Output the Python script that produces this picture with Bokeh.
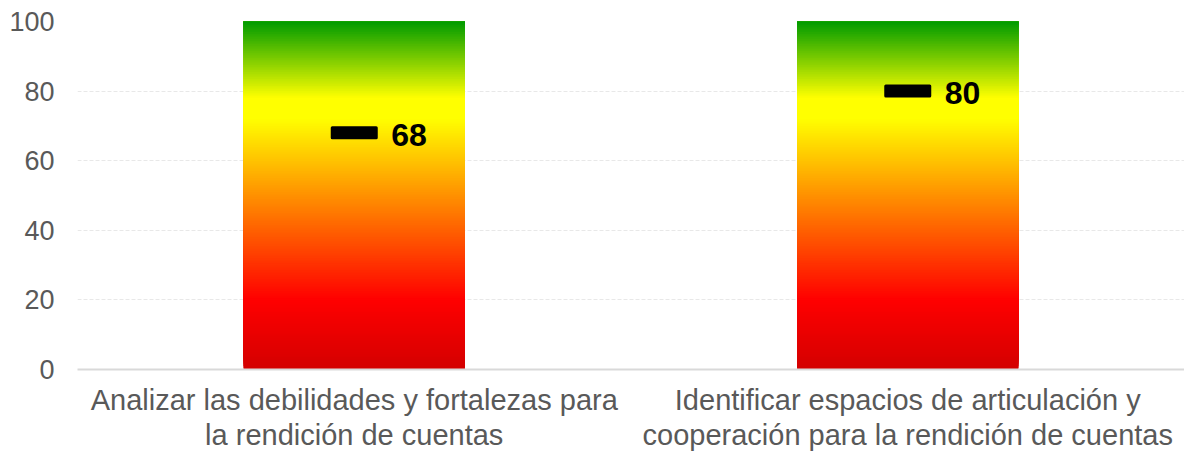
import numpy as np
from bokeh.plotting import figure
from bokeh.models import Range1d, FactorRange, FixedTicker
from bokeh.core.properties import value
from bokeh.embed import file_html
from bokeh.resources import INLINE

# ---- data ----
categories = ["Analizar las debilidades y fortalezas para\nla rendición de cuentas",
              "Identificar espacios de articulación y\ncooperación para la rendición de cuentas"]
scale_max = [100, 100]          # gradient bar height
scores = [68, 80]               # marker values
score_labels = ["68", "80"]
y_ticks = [0, 20, 40, 60, 80, 100]

# gradient stops (style)
stop_pos = [0, 20, 50, 72, 78, 100]
stop_col = [(212, 0, 0), (255, 0, 0), (255, 145, 0), (255, 255, 0), (255, 255, 0), (0, 155, 0)]

FONT = "Liberation Sans"

p = figure(x_range=FactorRange(*categories), y_range=Range1d(0, 100),
           width=1184, height=454, output_backend="svg", toolbar_location=None,
           min_border_left=77, min_border_right=0, min_border_top=21, min_border_bottom=85)
p.outline_line_color = None
p.background_fill_color = "white"

# gradient bars as overlapping slices (no seams)
n = 200
sp = np.array(stop_pos, dtype=float)
sc = np.array(stop_col, dtype=float)
xs, bots, tops, cols = [], [], [], []
for cat, vmax in zip(categories, scale_max):
    edges = np.linspace(0, vmax, n + 1)
    for i in range(n):
        mid = (edges[i] + edges[i + 1]) / 2
        r = np.interp(mid, sp, sc[:, 0]); g = np.interp(mid, sp, sc[:, 1]); b = np.interp(mid, sp, sc[:, 2])
        xs.append(cat); bots.append(edges[i]); tops.append(vmax)
        cols.append("#%02x%02x%02x" % (int(r), int(g), int(b)))
p.vbar(x=xs, bottom=bots, top=tops, width=0.4, fill_color=cols, line_color=None)

# markers
p.rect(x=categories, y=scores, width=44, height=10, width_units="screen", height_units="screen",
       fill_color="black", line_color="black", line_width=3, line_join="round")
p.text(x=categories, y=scores, text=score_labels, x_offset=37, y_offset=2,
       text_baseline="middle", text_align="left", text_font=value(FONT),
       text_font_size="32px", text_font_style="bold", text_color="black")

# axes
p.yaxis.ticker = FixedTicker(ticks=y_ticks)
p.yaxis.axis_line_color = None
p.yaxis.major_tick_line_color = None
p.yaxis.minor_tick_line_color = None
p.yaxis.major_label_text_font = FONT
p.yaxis.major_label_text_font_size = "27px"
p.yaxis.major_label_text_color = "#595959"
p.yaxis.major_label_standoff = 17

p.xaxis.axis_line_color = "#D9D9D9"
p.xaxis.axis_line_width = 2
p.xaxis.major_tick_line_color = None
p.xaxis.minor_tick_line_color = None
p.xaxis.major_label_text_font = FONT
p.xaxis.major_label_text_font_size = "29px"
p.xaxis.major_label_text_line_height = 1.1
p.xaxis.major_label_text_color = "#595959"
p.xaxis.major_label_standoff = 8
p.xaxis.major_label_orientation = "horizontal"

p.xgrid.grid_line_color = None
p.ygrid.grid_line_color = "#E8E8E8"
p.ygrid.grid_line_dash = "4 2"
p.ygrid.grid_line_width = 1

open("out.html", "w").write(file_html(p, INLINE))
